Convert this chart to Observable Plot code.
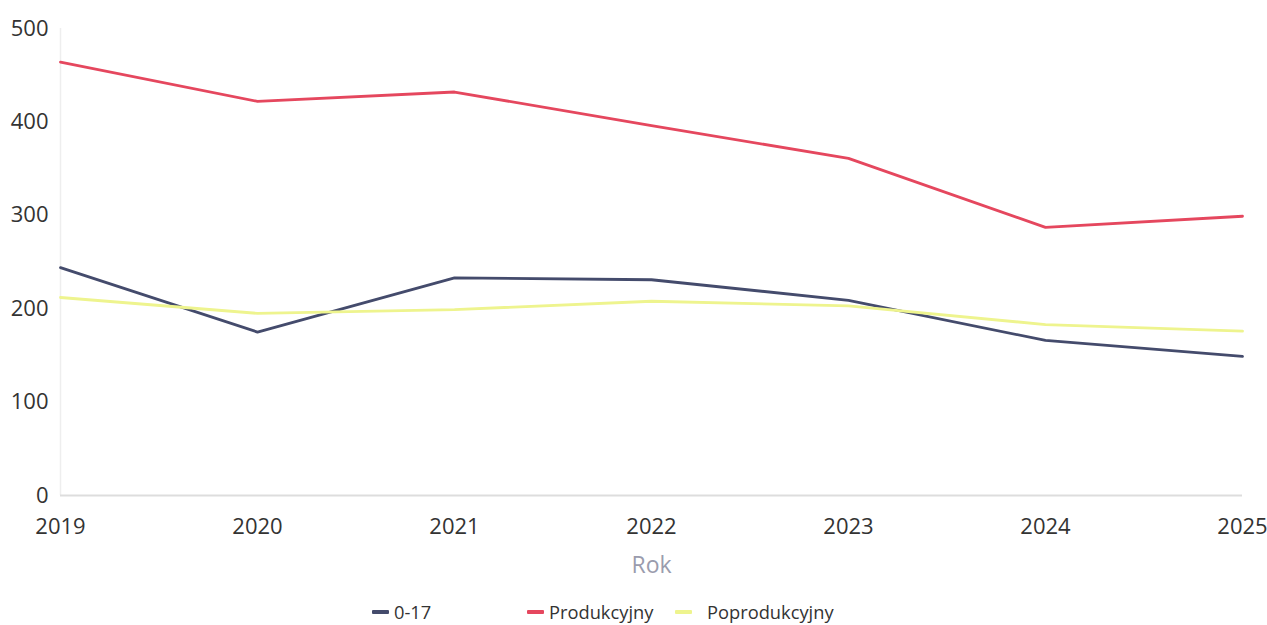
<!DOCTYPE html>
<html>
<head>
<meta charset="utf-8">
<script src="https://cdn.jsdelivr.net/npm/d3@7"></script>
<script src="https://cdn.jsdelivr.net/npm/@observablehq/plot@0.6"></script>
<style>
  html, body { margin: 0; padding: 0; background: #fff; }
  body { width: 1267px; height: 625px; overflow: hidden; font-family: "Open Sans", "Noto Sans", sans-serif; }
  #legend { position: absolute; top: 599px; left: 0; width: 1267px; height: 28px; }
  .item { position: absolute; top: 0; display: flex; align-items: center; font-size: 18.3px; color: #333; }
  .sw { width: 17px; height: 4px; margin-right: 5px; border-radius: 1px; }
</style>
</head>
<body>
<div id="chart"></div>
<div id="legend"></div>
<script>
const years = [2019, 2020, 2021, 2022, 2023, 2024, 2025];
const series = ["0-17", "Produkcyjny", "Poprodukcyjny"];
const colors = ["#444b6c", "#e5475e", "#eef48e"];
const v017 = [244, 175, 233, 231, 209, 166, 149];
const vProd = [464, 422, 432, 396, 361, 287, 299];
const vPost = [212, 195, 199, 208, 203, 183, 176];
const yTicks = [0, 100, 200, 300, 400, 500];

const values = [v017, vProd, vPost];
const data = [];
series.forEach((s, i) => years.forEach((y, j) => data.push({ year: y, value: values[i][j], series: s })));

const chart = Plot.plot({
  width: 1267,
  height: 590,
  marginTop: 28,
  marginBottom: 95,
  marginLeft: 60,
  marginRight: 25,
  style: { fontFamily: "'Open Sans', 'Noto Sans', sans-serif", background: "#fff" },
  x: { domain: [2019, 2025], ticks: years, tickFormat: d => String(d), label: null },
  y: { domain: [0, 500], ticks: yTicks, label: null },
  color: { domain: series, range: colors },
  marks: [
    Plot.ruleX([2019], { stroke: "#eeeeee", strokeWidth: 1.5 }),
    Plot.ruleY([0], { stroke: "#dddddd", strokeWidth: 2 }),
    Plot.axisY({ ticks: yTicks, tickSize: 0, tickPadding: 12, fontSize: 22, fill: "#333", label: null }),
    Plot.axisX({ ticks: years, tickFormat: d => String(d), tickSize: 0, tickPadding: 23, fontSize: 22, fill: "#333", label: null }),
    Plot.text(["Rok"], { frameAnchor: "bottom", dy: 77, fontSize: 23, fill: "#9a9cad" }),
    Plot.line(data, { x: "year", y: "value", stroke: "series", strokeWidth: 2.8, curve: "linear" })
  ]
});
document.getElementById("chart").appendChild(chart);

const legend = document.getElementById("legend");
const lefts = [372, 527, 675];
series.forEach((s, i) => {
  const it = document.createElement("div");
  it.className = "item";
  it.style.left = lefts[i] + "px";
  const sw = document.createElement("span");
  sw.className = "sw";
  sw.style.background = colors[i];
  const t = document.createElement("span");
  t.textContent = s;
  if (i === 2) t.style.marginLeft = "10px";
  it.appendChild(sw); it.appendChild(t);
  legend.appendChild(it);
});
</script>
</body>
</html>
